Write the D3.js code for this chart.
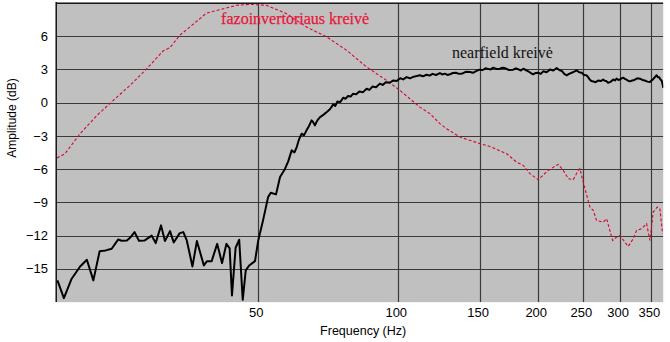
<!DOCTYPE html>
<html>
<head>
<meta charset="utf-8">
<script src="https://cdn.jsdelivr.net/npm/d3@7"></script>
<style>
  html, body { margin: 0; padding: 0; background: #ffffff; }
  svg { display: block; }
  .tick text { font-family: "Liberation Sans", Arial, sans-serif; font-size: 13px; fill: #000; }
</style>
</head>
<body>
<svg id="chart" width="670" height="342"></svg>
<script>
// ---- data ----
const xTicks = [50, 100, 150, 200, 250, 300, 350];
const yTicks = [-15, -12, -9, -6, -3, 0, 3, 6];
const xDomain = [18.46, 371.5];
const yDomain = [-18, 9];

const nearFreq = [18.5, 19.1, 19.85, 20.7, 21.4, 22.1, 22.8, 23.5, 24.2, 25.0, 25.4, 26.1, 26.5, 27.1, 27.7, 28.5, 29.5, 30.1, 30.9, 31.5, 32.3, 32.9, 33.9, 34.5, 35.1, 36.1, 36.9, 38.2, 38.8, 39.7, 40.8, 41.8, 42.7, 43.4, 43.9, 44.7, 45.5, 46.3, 47.0, 47.8, 49.2, 50.0, 51.2, 52.5, 53.2, 54.6, 55.7, 57.1, 58.0,
  59.0, 59.8, 60.5, 61.2, 62.0, 62.7, 63.5, 64.3, 65.1, 65.6, 66.2, 67.0, 67.9, 69.0, 70.2, 71.3, 72.5, 73.2, 74.0, 75.0, 76.2, 77.0, 78.0, 79.0, 80.0, 81.2, 82.5, 84.0, 85.5, 86.7, 88.0, 89.6, 91.3, 92.6, 94.0, 95.8, 97.6, 99.2,
  101.0, 102.5, 104.2, 106.0, 108.0, 109.6, 111.3, 113.0, 115.0, 116.8, 118.5, 120.6, 122.9, 124.4, 126.0, 127.6, 129.2, 131.0, 133.0, 135.2, 137.5, 140.0, 142.6, 144.8, 147.0, 149.5, 152.0, 154.0, 156.0, 158.0, 160.1, 162.5, 165.0, 167.5, 170.0, 173.0, 176.7, 179.0, 181.0, 183.5, 185.7, 188.0, 190.0, 192.5, 195.1, 197.5,
  200.0, 202.5, 205.0, 208.5, 212.0, 215.5, 219.1, 222.0, 225.0, 227.5, 230.2, 233.0, 236.0, 239.0, 241.9, 245.0, 248.0, 251.0, 254.1, 256.0, 258.0, 260.2, 262.6, 265.8, 269.0, 272.5, 275.9, 278.0, 280.0, 282.6, 285.2, 287.5, 290.0, 292.4, 294.8, 297.5,
  300.0, 302.3, 304.6, 306.8, 309.0, 312.0, 314.9, 318.5, 322.0, 326.5, 330.9, 335.0, 339.0, 343.4, 347.7, 350.5, 353.0, 356.2, 359.4, 361.7, 364.0, 366.2, 368.4, 370.0, 371.4];
const nearDb = [-16.05, -17.65, -15.9, -14.79, -14.18, -16.05, -13.41, -13.34, -13.19, -12.35, -12.47, -12.44, -12.2, -11.69, -12.47, -12.44, -12.01, -12.68, -11.08, -12.5, -11.6, -12.62, -11.78, -11.69, -12.44, -14.79, -12.5, -14.7, -14.31, -14.31, -12.75, -14.49, -12.75, -13.16, -17.41, -13.1, -12.38, -17.8, -15.15, -14.7, -14.31, -12.44, -10.63, -8.53, -8.13, -8.28, -6.72, -5.96, -5.3,
  -4.31, -4.5, -4.01, -3.3, -2.8, -2.95, -2.5, -2.1, -1.6, -1.75, -2.05, -1.6, -1.3, -1.1, -0.85, -0.6, -0.15, -0.3, 0.1, 0.05, 0.45, 0.35, 0.6, 0.55, 0.81, 0.75, 1.0, 0.95, 1.26, 1.15, 1.45, 1.4, 1.72, 1.6, 1.85, 1.8, 2.01, 1.95,
  2.2, 2.1, 2.31, 2.2, 2.35, 2.4, 2.47, 2.38, 2.52, 2.45, 2.6, 2.5, 2.67, 2.55, 2.62, 2.5, 2.56, 2.68, 2.7, 2.6, 2.64, 2.8, 2.76, 2.7, 2.85, 2.98, 2.95, 3.1, 3.05, 3.0, 3.16, 3.05, 3.05, 3.15, 3.1, 2.95, 2.98, 3.1, 3.02, 2.9, 3.07, 2.95, 2.85, 2.7, 2.56, 2.68,
  2.7, 2.6, 2.83, 2.75, 3.0, 2.9, 3.13, 2.95, 2.85, 2.6, 2.47, 2.6, 2.7, 2.8, 2.92, 2.75, 2.7, 2.5, 2.47, 2.3, 2.1, 1.95, 1.92, 1.85, 2.0, 1.95, 2.08, 1.98, 1.95, 1.8, 1.86, 1.95, 2.1, 2.0, 2.17, 2.05,
  2.1, 2.2, 2.26, 2.15, 2.1, 1.98, 1.92, 2.0, 2.05, 2.2, 2.17, 2.05, 2.0, 1.9, 1.86, 2.0, 2.1, 2.3, 2.47, 2.3, 2.3, 2.1, 2.01, 1.7, 1.35];

const portFreq = [18.46, 19.2, 20.7, 22.5, 24.4, 26.5, 28.8, 31.2, 32.3, 33.9, 36.2, 38.7, 41.4, 44.9, 48.0, 52.1, 57.5, 63.5, 70.2, 77.5, 85.5, 94.4, 100.8, 111.3, 117.0, 122.9, 127.1, 135.7, 149.9, 157.5, 171.1, 179.7, 185.7, 192.0, 200.0, 210.1, 220.8, 226.4, 232.1, 237.9, 243.8, 245.8, 249.9, 258.3, 262.6, 267.0, 275.9, 280.6, 289.0, 294.8, 299.7, 312.2, 320.1, 325.5, 333.6, 342.0, 347.7, 353.4, 360.5, 365.3, 370.2];
const portDb = [-5.0, -4.61, -2.8, -1.15, 0.21, 1.56, 3.07, 4.66, 4.97, 6.08, 7.07, 8.09, 8.4, 8.79, 8.88, 8.79, 8.04, 6.83, 5.93, 4.72, 3.22, 2.01, 1.11, -0.4, -0.99, -1.9, -2.35, -3.11, -3.7, -3.95, -4.61, -5.37, -5.66, -6.41, -6.96, -6.12, -5.57, -6.12, -6.87, -6.95, -6.12, -5.96, -7.17, -9.42, -9.73, -10.63, -10.79, -10.48, -12.44, -12.14, -11.99, -12.98, -12.29, -11.53, -11.38, -10.93, -12.44, -9.88, -9.43, -9.58, -11.83];

const nearLabel = "nearfield kreivė";
const portLabel = "fazoinvertoriaus kreivė";
const xTitle = "Frequency (Hz)";
const yTitle = "Amplitude (dB)";

// ---- drawing ----
const svg = d3.select("#chart");
const pL = 57, pR = 663.3, pT = 3, pB = 302;

const x = d3.scaleLog().domain(xDomain).range([pL, pR]);
const y = d3.scaleLinear().domain(yDomain).range([pB, pT]);

// plot background
svg.append("rect")
  .attr("x", pL).attr("y", pT)
  .attr("width", pR - pL).attr("height", pB - pT)
  .attr("fill", "#c0c0c0");

// grid
const grid = svg.append("g");
grid.selectAll("line.h").data(yTicks).join("line")
  .attr("x1", pL).attr("x2", pR)
  .attr("y1", d => Math.round(y(d)) + 0.5).attr("y2", d => Math.round(y(d)) + 0.5)
  .attr("stroke", "#3a3a3a").attr("stroke-width", 1.2);
grid.selectAll("line.v").data(xTicks).join("line")
  .attr("y1", pT).attr("y2", pB)
  .attr("x1", d => Math.round(x(d)) + 0.5).attr("x2", d => Math.round(x(d)) + 0.5)
  .attr("stroke", "#3a3a3a").attr("stroke-width", 1.2);

// axes (labels only)
const xAxis = svg.append("g")
  .attr("transform", `translate(0,${pB})`)
  .call(d3.axisBottom(x).tickValues(xTicks).tickFormat(d3.format("d")).tickSize(0).tickPadding(6));
xAxis.select(".domain").remove();
xAxis.selectAll(".tick text").attr("dx", -2.5);

const yAxis = svg.append("g")
  .attr("transform", `translate(${pL},0)`)
  .call(d3.axisLeft(y).tickValues(yTicks).tickFormat(d3.format("d")).tickSize(0).tickPadding(9));
yAxis.select(".domain").remove();

// lines
const line = (fs, ds) => d3.line().x((d, i) => x(fs[i])).y((d, i) => y(ds[i]))(fs);

svg.append("path")
  .attr("d", line(portFreq, portDb))
  .attr("fill", "none")
  .attr("stroke", "#d8062c")
  .attr("stroke-width", 1.1)
  .attr("stroke-dasharray", "3,2");

svg.append("path")
  .attr("d", line(nearFreq, nearDb))
  .attr("fill", "none")
  .attr("stroke", "#000")
  .attr("stroke-width", 2)
  .attr("stroke-linejoin", "round");

// sunken border
svg.append("line").attr("x1", pL - 1).attr("x2", pR).attr("y1", pT - 0.5).attr("y2", pT - 0.5).attr("stroke", "#808080");
svg.append("line").attr("x1", pL - 1).attr("x2", pR).attr("y1", pT + 0.5).attr("y2", pT + 0.5).attr("stroke", "#1a1a1a");
svg.append("line").attr("x1", pL - 1.5).attr("x2", pL - 1.5).attr("y1", pT - 1).attr("y2", pB).attr("stroke", "#808080");
svg.append("line").attr("x1", pL - 0.5).attr("x2", pL - 0.5).attr("y1", pT - 1).attr("y2", pB).attr("stroke", "#1a1a1a");
svg.append("line").attr("x1", pL - 1).attr("x2", pR + 1).attr("y1", pB + 0.5).attr("y2", pB + 0.5).attr("stroke", "#f4f4f4");
svg.append("line").attr("x1", pR + 0.5).attr("x2", pR + 0.5).attr("y1", pT - 1).attr("y2", pB + 1).attr("stroke", "#f4f4f4");

// curve labels
svg.append("text")
  .attr("x", x(41.6)).attr("y", 24)
  .attr("font-family", "'Liberation Serif', 'Times New Roman', serif")
  .attr("font-size", 16)
  .attr("fill", "#e8163a")
  .attr("stroke", "#e8163a").attr("stroke-width", 0.25)
  .text(portLabel);

svg.append("text")
  .attr("x", x(130.5)).attr("y", 58)
  .attr("font-family", "'Liberation Serif', 'Times New Roman', serif")
  .attr("font-size", 16)
  .attr("fill", "#111")
  .text(nearLabel);

// axis titles
svg.append("text")
  .attr("x", (pL + pR) / 2 + 3).attr("y", 335)
  .attr("text-anchor", "middle")
  .attr("font-family", "'Liberation Sans', Arial, sans-serif")
  .attr("font-size", 12.5)
  .text(xTitle);

svg.append("text")
  .attr("transform", "translate(16,118) rotate(-90)")
  .attr("text-anchor", "middle")
  .attr("font-family", "'Liberation Sans', Arial, sans-serif")
  .attr("font-size", 12)
  .text(yTitle);
</script>
</body>
</html>
